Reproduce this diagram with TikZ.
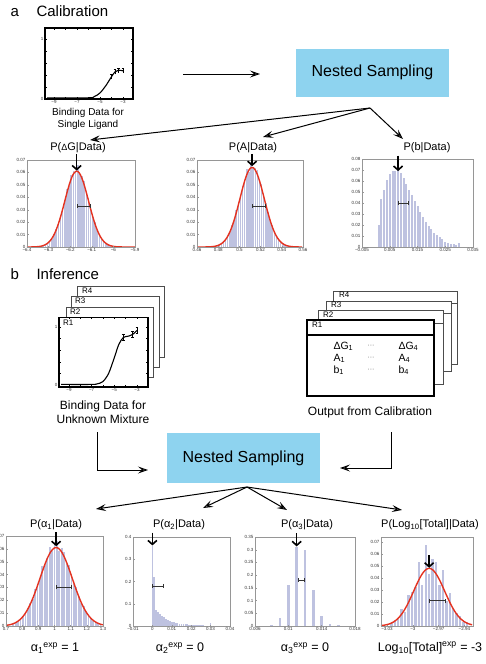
\documentclass[tikz,border=0pt]{standalone}
\usepackage{fontspec}
\setmainfont{Liberation Sans}
\usetikzlibrary{arrows.meta}

\definecolor{nsblue}{RGB}{142,211,239}
\definecolor{histbar}{RGB}{190,194,224}
\definecolor{fitred}{RGB}{228,50,32}
\definecolor{framegray}{RGB}{150,150,150}

\newcommand{\fsz}[1]{\fontsize{#1}{#1}\selectfont}

\tikzset{
  nsbox/.style={fill=nsblue, minimum width=153pt, minimum height=48pt, inner sep=0pt, font=\fsz{16}},
  flow/.style={line width=1pt, -{Stealth[length=10pt,width=7pt,inset=4pt,fill=gray!30]}},
  peakarrow/.style={line width=1.6pt, -{Straight Barb[length=4pt,width=9pt]}},
  hbar/.style={fill=histbar},
  fitcurve/.style={draw=fitred, line width=1.4pt},
  errbar/.style={line width=0.8pt, draw=black!80, {Bar[width=4pt]}-{Bar[width=4pt]}},
  axisframe/.style={draw=framegray, line width=0.4pt},
  xlab/.style={anchor=north, inner sep=1.5pt, font=\fsz{4.5}, text=black!80},
  ylab/.style={anchor=east, inner sep=1.5pt, font=\fsz{4.5}, text=black!80},
  ptitle/.style={font=\fsz{11}},
  bindframe/.style={draw=black, line width=1.2pt},
  bindcurve/.style={line width=1.1pt},
  rlab/.style={anchor=north west, inner sep=0pt, font=\fsz{8}},
  backframe/.style={draw=black!70, fill=white, line width=0.6pt},
  bottomlab/.style={font=\fsz{12.5}}
}

\begin{document}
\begin{tikzpicture}[x=1pt, y=-1pt]
\useasboundingbox (0,0) rectangle (485,664);
\clip (0,0) rectangle (485,664);

%a Calibration
\node[anchor=base west, font=\fsz{15}] (aLetter) at (7,16) {a};
\node[anchor=base west, font=\fsz{15}] (aHead) at (33,16) {Calibration};

%curva de ligacao
\begin{scope}[shift={(45,99)}, x=11.5pt, y=60pt, shift={(9.78,0)}]
  \foreach \t in {-9,...,-3}
    \draw[line width=0.5pt] (\t,0) -- ++(0,2pt) (\t,1.183) -- ++(0,-2pt);
  \foreach \v in {0.2,0.4,0.6,0.8,1}
    \draw[line width=0.5pt] (-9.78,\v) -- ++(2pt,0) (-2.13,\v) -- ++(-2pt,0);
  \draw[bindcurve] plot[smooth] coordinates {(-9.6,0.02) (-6,0.02) (-5.5,0.04) (-5,0.1) (-4.5,0.22) (-4,0.37) (-3.7,0.45) (-3.4,0.48) (-3,0.47)};
  \foreach \px/\py in {-4/0.37, -3.7/0.45, -3.4/0.48, -3/0.47}
    \draw[line width=0.6pt] (\px,{\py-0.04}) -- (\px,{\py+0.04}) ({\px-0.12},{\py+0.04}) -- ({\px+0.12},{\py+0.04});
  \draw[bindframe] (-9.78,0) rectangle (-2.13,1.183);
  \foreach \t/\l [count=\k] in {-9/−9,-7/−7,-5/−5,-3/−3}
    \node[xlab] (abx\k) at (\t,0) {\l};
  \node[ylab] (aby0) at (-9.78,0) {0};
  \node[ylab] (aby1) at (-9.78,1) {1};
\end{scope}
\node[align=center, font=\fontsize{10}{12}\selectfont] (bindA) at (88,119) {Binding Data for\\Single Ligand};

\node[nsbox] (nsA) at (372.5,72.5) {Nested Sampling};
\coordinate (bindOutA) at (183,74);
\coordinate (nsInA) at (260,74);
\draw[flow] (bindOutA) -- (nsInA);

%flechas
\coordinate (splitA) at (370,108);
\coordinate (toDG) at (90,140);
\coordinate (toA) at (263,137);
\coordinate (toB) at (403,139);
\foreach \e in {toDG,toA,toB}
  \draw[flow] (splitA) -- (\e);

\node[ptitle] (tDG) at (78,148) {P({\fsz{9}Δ}G|Data)};
\node[ptitle] (tA) at (253,148) {P(A|Data)};
\node[ptitle] (tB) at (427,148) {P(b|Data)};

%P(dG|Data)
\begin{scope}[shift={(27,247)}, x=216pt, y=12.43pt, shift={(6.4,0)}]
  \foreach \i in {0,...,36} {
    \pgfmathsetmacro\xc{-6.355+0.01*\i}
    \pgfmathsetmacro\hh{6.3*exp(-0.5*((\xc+6.17)/0.055)^2)*(1+0.05*sin(\i*137))}
    \fill[hbar] ({\xc-0.0036},0) rectangle ({\xc+0.0036},\hh);
  }
  \draw[fitcurve] plot[domain=-6.4:-5.9, samples=90] (\x,{6.1*exp(-0.5*((\x+6.17)/0.055)^2)});
  \draw[axisframe] (-6.4,0) rectangle (-5.9,7);
  \foreach \t/\l [count=\k] in {-6.4/−6.4,-6.3/−6.3,-6.2/−6.2,-6.1/−6.1,-6/−6,-5.9/−5.9} {
    \draw[axisframe] (\t,0) -- ++(0,1.5pt);
    \node[xlab] (a1x\k) at (\t,0) {\l};
  }
  \foreach \v/\l [count=\k] in {0/0,1/0.01,2/0.02,3/0.03,4/0.04,5/0.05,6/0.06,7/0.07} {
    \draw[axisframe] (-6.4,\v) -- ++(1.5pt,0);
    \node[ylab] (a1y\k) at (-6.4,\v) {\l};
  }
  \draw[errbar] (-6.17,3.3) -- (-6.105,3.3);
  \draw[peakarrow] (-6.17,7.5) -- (-6.17,6.15);
\end{scope}

%P(A|Data)
\begin{scope}[shift={(197,247)}, x=1060pt, y=12.43pt, shift={(-0.46,0)}]
  \foreach \i in {0,...,36} {
    \pgfmathsetmacro\xc{0.477+0.002*\i}
    \pgfmathsetmacro\hh{6.6*exp(-0.5*((\xc-0.512)/0.0115)^2)*(1+0.05*sin(\i*151))}
    \fill[hbar] ({\xc-0.0007},0) rectangle ({\xc+0.0007},\hh);
  }
  \draw[fitcurve] plot[domain=0.46:0.56, samples=90] (\x,{6.4*exp(-0.5*((\x-0.512)/0.0115)^2)});
  \draw[axisframe] (0.46,0) rectangle (0.56,7);
  \foreach \t/\l [count=\k] in {0.46/0.46,0.48/0.48,0.5/0.5,0.52/0.52,0.54/0.54,0.56/0.56} {
    \draw[axisframe] (\t,0) -- ++(0,1.5pt);
    \node[xlab] (a2x\k) at (\t,0) {\l};
  }
  \foreach \v/\l [count=\k] in {0/0,1/0.01,2/0.02,3/0.03,4/0.04,5/0.05,6/0.06,7/0.07} {
    \draw[axisframe] (0.46,\v) -- ++(1.5pt,0);
    \node[ylab] (a2y\k) at (0.46,\v) {\l};
  }
  \draw[errbar] (0.512,3.3) -- (0.525,3.3);
  \draw[peakarrow] (0.512,7.5) -- (0.512,6.5);
\end{scope}

%P(b|Data)
\begin{scope}[shift={(362,247)}, x=2.775pt, y=11pt, shift={(5,0)}]
  \foreach \h [count=\i] in {2.0,4.4,5.2,6.1,6.6,6.9,6.9,7.0,6.7,6.3,5.7,5.2,4.7,4.2,3.7,3.2,2.7,2.3,1.9,1.6,1.3,1.1,0.9,0.7,0.5,0.4,0.3,0.3,0.2,0.4}
    \fill[hbar] ({\i-0.36},0) rectangle ({\i+0.36},\h);
  \draw[axisframe] (-5,0) rectangle (35,8);
  \foreach \t/\l [count=\k] in {-5/−0.005,5/0.005,15/0.015,25/0.025,35/0.035} {
    \draw[axisframe] (\t,0) -- ++(0,1.5pt);
    \node[xlab] (a3x\k) at (\t,0) {\l};
  }
  \foreach \v/\l [count=\k] in {0/0,1/0.01,2/0.02,3/0.03,4/0.04,5/0.05,6/0.06,7/0.07,8/0.08} {
    \draw[axisframe] (-5,\v) -- ++(1.5pt,0);
    \node[ylab] (a3y\k) at (-5,\v) {\l};
  }
  \draw[errbar] (8,4) -- (12,4);
  \draw[peakarrow] (8,8.3) -- (8,6.9);
\end{scope}

%b Inference
\node[anchor=base west, font=\fsz{15}] (bLetter) at (7,279) {b};
\node[anchor=base west, font=\fsz{15}] (bHead) at (33,279) {Inference};

%pilha de curvas
\draw[backframe] (77,286) rectangle (164,357);
\node[rlab] (lR4) at (82,288) {R4};
\draw[backframe] (71,296) rectangle (159,367);
\node[rlab] (lR3) at (75,298) {R3};
\draw[backframe] (66,307) rectangle (153,377);
\node[rlab] (lR2) at (70,309) {R2};
\fill[white] (59,317) rectangle (148,387);
\begin{scope}[shift={(59,385)}, x=11.33pt, y=58pt, shift={(9.88,0)}]
  \foreach \t in {-9,...,-3}
    \draw[line width=0.5pt] (\t,-0.034) -- ++(0,2pt) (\t,1.17) -- ++(0,-2pt);
  \foreach \v in {0.2,0.4,0.6,0.8,1}
    \draw[line width=0.5pt] (-9.88,\v) -- ++(2pt,0) (-2.03,\v) -- ++(-2pt,0);
  \draw[bindcurve] plot[smooth] coordinates {(-9.7,0.01) (-7,0.01) (-6.5,0.02) (-6,0.06) (-5.5,0.2) (-5,0.47) (-4.6,0.7) (-4.2,0.82) (-3.8,0.84) (-3.4,0.87) (-3,0.94)};
  \foreach \px/\py in {-4.2/0.82, -3.4/0.87, -3/0.94}
    \draw[line width=0.6pt] (\px,{\py-0.05}) -- (\px,{\py+0.05}) ({\px-0.12},{\py+0.05}) -- ({\px+0.12},{\py+0.05}) ({\px-0.12},{\py-0.05}) -- ({\px+0.12},{\py-0.05});
  \draw[bindframe] (-9.88,-0.034) rectangle (-2.03,1.17);
  \foreach \t/\l [count=\k] in {-9/−9,-7/−7,-5/−5,-3/−3}
    \node[xlab] (bbx\k) at (\t,-0.034) {\l};
  \node[ylab] (bby0) at (-9.88,0) {0};
  \node[ylab] (bby1) at (-9.88,1) {1};
\end{scope}
\node[rlab] (lR1) at (63,320) {R1};
\node[align=center, font=\fontsize{12}{13.5}\selectfont] (bindB) at (103,412) {Binding Data for\\Unknown Mixture};

%pilha de resultados
\draw[backframe] (333,291) rectangle (457,364) (333,303) -- (457,303);
\node[rlab] (oR4) at (339,292) {R4};
\draw[backframe] (326,301) rectangle (451,371) (326,313) -- (451,313);
\node[rlab] (oR3) at (331,302) {R3};
\draw[backframe] (318,310) rectangle (443,384) (318,323) -- (443,323);
\node[rlab] (oR2) at (323,312) {R2};
\draw[fill=white, line width=1.2pt] (307,320) rectangle (434,396) (307,335) -- (434,335);
\node[rlab] (oR1) at (312,322) {R1};
\node[anchor=base west, font=\fsz{10.5}] (dG1) at (330,349) {ΔG\textsubscript{1}};
\node[anchor=base west, font=\fsz{10.5}] (A1) at (330,361) {A\textsubscript{1}};
\node[anchor=base west, font=\fsz{10.5}] (b1) at (330,373) {b\textsubscript{1}};
\node[anchor=base west, font=\fsz{10.5}] (dG4) at (395,349) {ΔG\textsubscript{4}};
\node[anchor=base west, font=\fsz{10.5}] (A4) at (395,361) {A\textsubscript{4}};
\node[anchor=base west, font=\fsz{10.5}] (b4) at (395,373) {b\textsubscript{4}};
\node[font=\fsz{7}, text=black!60] (dots1) at (371,346) {···};
\node[font=\fsz{7}, text=black!60] (dots2) at (371,358) {···};
\node[font=\fsz{7}, text=black!60] (dots3) at (371,370) {···};
\node[font=\fsz{12}] (outB) at (370,412) {Output from Calibration};

\node[nsbox, minimum height=50pt] (nsB) at (243.5,458) {Nested Sampling};
\coordinate (lTop) at (97,432);
\coordinate (lEnd) at (148,470);
\coordinate (rTop) at (391,432);
\coordinate (rEnd) at (340,468);
\draw[flow] (lTop) |- (lEnd);
\draw[flow] (rTop) |- (rEnd);

\coordinate (splitB) at (247,487);
\coordinate (toA1) at (96,509);
\coordinate (toA2) at (203,508);
\coordinate (toA3) at (287,510);
\coordinate (toT) at (402,510);
\foreach \e in {toA1,toA2,toA3,toT}
  \draw[flow] (splitB) -- (\e);

\node[ptitle] (tA1) at (56,525) {P(α\textsubscript{1}|Data)};
\node[ptitle] (tA2) at (179,525) {P(α\textsubscript{2}|Data)};
\node[ptitle] (tA3) at (307,525) {P(α\textsubscript{3}|Data)};
\node[ptitle] (tT) at (430,525) {P(Log\textsubscript{10}[Total]|Data)};

%P(a1|Data)
\begin{scope}[shift={(6,626)}, x=161.7pt, y=12.86pt, shift={(-0.7,0)}]
  \foreach \i in {0,...,36} {
    \pgfmathsetmacro\xc{0.745+0.015*\i}
    \pgfmathsetmacro\hh{6.3*exp(-0.5*((\xc-1.01)/0.1)^2)*(1+0.06*sin(\i*127))}
    \fill[hbar] ({\xc-0.0055},0) rectangle ({\xc+0.0055},\hh);
  }
  \draw[fitcurve] plot[domain=0.7:1.3, samples=90] (\x,{6.1*exp(-0.5*((\x-1.01)/0.1)^2)});
  \draw[axisframe] (0.7,0) rectangle (1.3,7);
  \foreach \t/\l [count=\k] in {0.7/0.7,0.8/0.8,0.9/0.9,1/1,1.1/1.1,1.2/1.2,1.3/1.3} {
    \draw[axisframe] (\t,0) -- ++(0,1.5pt);
    \node[xlab] (b1x\k) at (\t,0) {\l};
  }
  \foreach \v/\l [count=\k] in {0/0,1/0.01,2/0.02,3/0.03,4/0.04,5/0.05,6/0.06,7/0.07} {
    \draw[axisframe] (0.7,\v) -- ++(1.5pt,0);
    \node[ylab] (b1y\k) at (0.7,\v) {\l};
  }
  \draw[errbar] (1.01,3) -- (1.11,3);
  \draw[peakarrow] (1.01,7.3) -- (1.01,6.2);
\end{scope}

%P(a2|Data)
\begin{scope}[shift={(133,626)}, x=19.4pt, y=22.25pt, shift={(1,0)}]
  \foreach \px/\h in {0/3.6,0.1/2.2,0.2/0.7,0.3/0.62,0.4/0.55,0.5/0.47,0.6/0.4,0.7/0.33,0.8/0.28,0.9/0.24,1.0/0.2,1.1/0.17,1.2/0.15,1.3/0.13,1.4/0.11,1.5/0.1,1.6/0.09,1.7/0.08,1.8/0.07,1.9/0.06,2.0/0.05,2.1/0.05,2.2/0.04,2.3/0.04,2.4/0.03,2.5/0.03,2.6/0.03,2.7/0.02,2.8/0.02,2.9/0.02,3.0/0.12}
    \fill[hbar] ({\px-0.045},0) rectangle ({\px+0.045},\h);
  \draw[axisframe] (-1,0) rectangle (4,4);
  \foreach \t/\l [count=\k] in {-1/−0.01,0/0,1/0.01,2/0.02,3/0.03,4/0.04} {
    \draw[axisframe] (\t,0) -- ++(0,1.5pt);
    \node[xlab] (b2x\k) at (\t,0) {\l};
  }
  \foreach \v/\l [count=\k] in {0/0,1/0.1,2/0.2,3/0.3,4/0.4} {
    \draw[axisframe] (-1,\v) -- ++(1.5pt,0);
    \node[ylab] (b2y\k) at (-1,\v) {\l};
  }
  \draw[errbar] (0,1.8) -- (0.6,1.8);
  \draw[peakarrow] (0,4.2) -- (0,3.62);
\end{scope}

%P(a3|Data)
\begin{scope}[shift={(255,626)}, x=8.33pt, y=2.543pt, shift={(-6,0)}]
  \foreach \px/\h in {8/0.4,9/3,10/16,11/31,12/30,13/14,14/4,15/0.6,16/0.2}
    \fill[hbar] ({\px-0.16},0) rectangle ({\px+0.16},\h);
  \draw[axisframe] (6,0) rectangle (18,35);
  \foreach \t/\l [count=\k] in {6/0.006,10/0.01,14/0.014,18/0.018} {
    \draw[axisframe] (\t,0) -- ++(0,1.5pt);
    \node[xlab] (b3x\k) at (\t,0) {\l};
  }
  \foreach \v/\l [count=\k] in {0/0,5/0.05,10/0.1,15/0.15,20/0.2,25/0.25,30/0.3,35/0.35} {
    \draw[axisframe] (6,\v) -- ++(1.5pt,0);
    \node[ylab] (b3y\k) at (6,\v) {\l};
  }
  \draw[errbar] (11.2,18) -- (12,18);
  \draw[peakarrow] (11,36.5) -- (11,31.3);
\end{scope}

%P(Log10[Total]|Data)
\begin{scope}[shift={(381,626)}, x=860pt, y=12pt, shift={(3.037,0)}]
  \foreach \i in {0,...,22} {
    \pgfmathsetmacro\xc{-3.025+0.004*\i}
    \pgfmathsetmacro\hh{5.4*exp(-0.5*((\xc+2.981)/0.018)^2)*(1+0.3*sin(\i*151))}
    \fill[hbar] ({\xc-0.0014},0) rectangle ({\xc+0.0014},\hh);
  }
  \draw[fitcurve] plot[domain=-3.037:-2.93, samples=90] (\x,{4.8*exp(-0.5*((\x+2.981)/0.018)^2)});
  \draw[axisframe] (-3.037,0) rectangle (-2.93,7.4);
  \foreach \t/\l [count=\k] in {-3.03/−3.03,-3/−3,-2.97/−2.97,-2.94/−2.94} {
    \draw[axisframe] (\t,0) -- ++(0,1.5pt);
    \node[xlab] (b4x\k) at (\t,0) {\l};
  }
  \foreach \v/\l [count=\k] in {0/0,1/0.01,2/0.02,3/0.03,4/0.04,5/0.05,6/0.06,7/0.07} {
    \draw[axisframe] (-3.037,\v) -- ++(1.5pt,0);
    \node[ylab] (b4y\k) at (-3.037,\v) {\l};
  }
  \draw[errbar] (-2.981,2.1) -- (-2.962,2.1);
  \draw[peakarrow] (-2.981,5.9) -- (-2.981,4.85);
\end{scope}

%resultados
\node[bottomlab] (eA1) at (55,648) {α\textsubscript{1}\textsuperscript{exp} = 1};
\node[bottomlab] (eA2) at (180,648) {α\textsubscript{2}\textsuperscript{exp} = 0};
\node[bottomlab] (eA3) at (305,648) {α\textsubscript{3}\textsuperscript{exp} = 0};
\node[bottomlab] (eT) at (430,648) {Log\textsubscript{10}[Total]\textsuperscript{exp} = -3};

\end{tikzpicture}
\end{document}
